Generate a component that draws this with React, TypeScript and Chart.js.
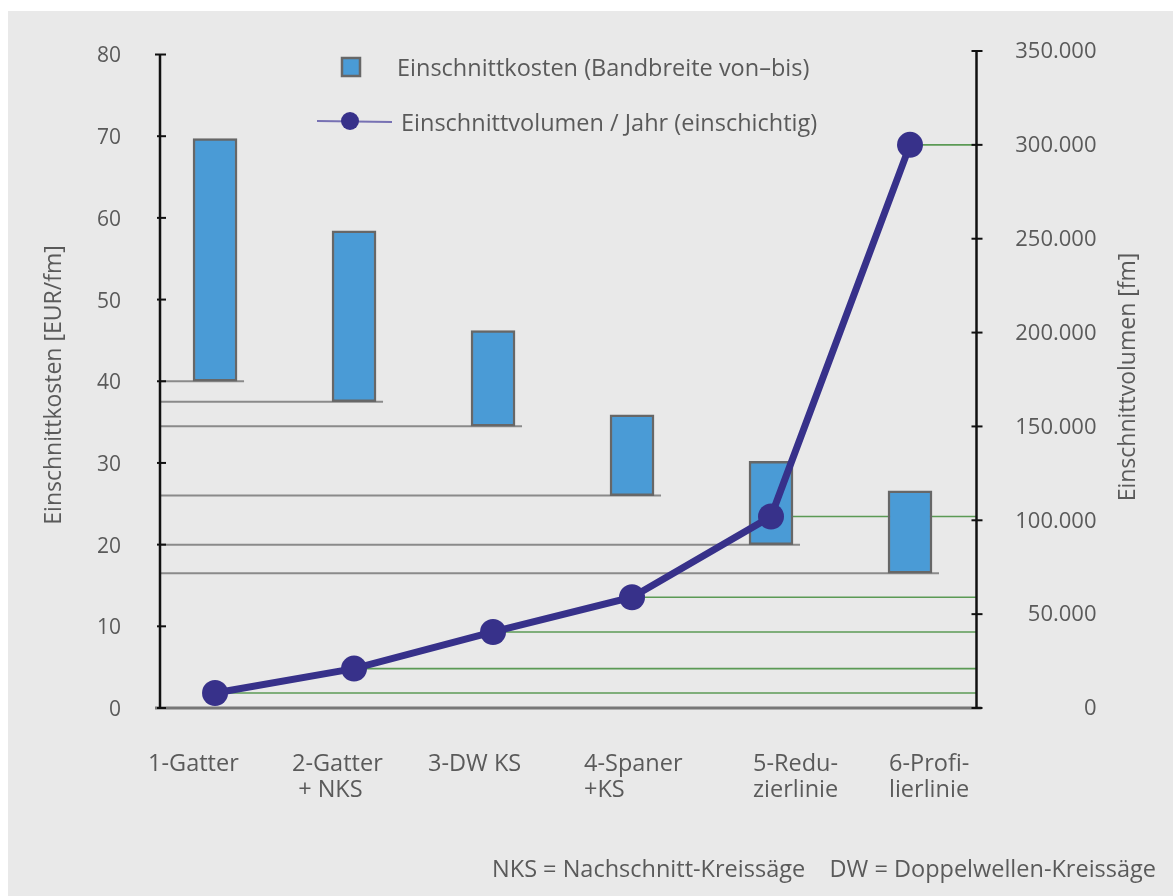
import React, { useEffect, useRef } from "react";
import { Chart, registerables } from "chart.js";

Chart.register(...registerables);

// Saw-line types (multi-line axis captions)
const categories: string[][] = [
  ["1-Gatter"],
  ["2-Gatter", " + NKS"],
  ["3-DW KS"],
  ["4-Spaner", "+KS"],
  ["5-Redu-", "zierlinie"],
  ["6-Profi-", "lierlinie"],
];

// Cutting cost range per line type [EUR/fm]
const costLow = [40, 37.5, 34.5, 26, 20, 16.5];
const costHigh = [69.7, 58.4, 46.2, 35.9, 30.2, 26.6];

// Annual cutting volume, single shift [fm]
const volume = [8000, 21000, 40500, 59000, 102000, 300000];

const costTicks = [0, 10, 20, 30, 40, 50, 60, 70, 80];
const volumeTicks = [0, 50000, 100000, 150000, 200000, 250000, 300000, 350000];

const legendCost = "Einschnittkosten (Bandbreite von\u2013bis)";
const legendVolume = "Einschnittvolumen / Jahr (einschichtig)";
const titleCost = "Einschnittkosten [EUR/fm]";
const titleVolume = "Einschnittvolumen [fm]";
const footnote = "NKS = Nachschnitt-Kreiss\u00e4ge    DW = Doppelwellen-Kreiss\u00e4ge";

// Layout / styling
const FONT = '"Open Sans", sans-serif';
const TEXT = "#5a5a5a";
const BAR_FILL = "#4a9bd6";
const BAR_EDGE = "#676767";
const LINE = "#37318a";
const GREEN = "#5b9a55";
const GREY_LINE = "#8a8a8a";
const BAR_W = 44;
// horizontal nudges of the category captions relative to their column
const CAPTION_SHIFT = [-67, -62, -65, -48, -18, -21];

const fmtThousands = (v: number) =>
  String(v).replace(/\B(?=(\d{3})+(?!\d))/g, ".");

const decor = {
  id: "decor",
  beforeDatasetsDraw(chart: any) {
    const { ctx, scales, chartArea } = chart;
    const x = scales.x;
    const y = scales.y;
    const y2 = scales.y2;
    const leftX = chartArea.left;
    const rightX = chartArea.right - 0.5;
    ctx.save();

    // grey lines from the cost axis to the lower end of each cost range
    ctx.strokeStyle = GREY_LINE;
    ctx.lineWidth = 2;
    costLow.forEach((lo, i) => {
      const py = y.getPixelForValue(lo);
      ctx.beginPath();
      ctx.moveTo(leftX, py);
      ctx.lineTo(x.getPixelForValue(i + 1) + BAR_W / 2 + 7, py);
      ctx.stroke();
    });

    // green lines from each volume point to the volume axis
    ctx.strokeStyle = GREEN;
    ctx.lineWidth = 1.6;
    volume.forEach((v, i) => {
      const py = y2.getPixelForValue(v);
      ctx.beginPath();
      ctx.moveTo(x.getPixelForValue(i + 1), py);
      ctx.lineTo(rightX, py);
      ctx.stroke();
    });

    // bottom axis
    const bottom = y.getPixelForValue(0);
    ctx.strokeStyle = "#777";
    ctx.lineWidth = 3;
    ctx.beginPath();
    ctx.moveTo(leftX - 5, bottom);
    ctx.lineTo(rightX + 5, bottom);
    ctx.stroke();

    // left axis with crossing ticks
    ctx.strokeStyle = "#111";
    ctx.lineWidth = 2.5;
    const topL = y.getPixelForValue(costTicks[costTicks.length - 1]);
    ctx.beginPath();
    ctx.moveTo(leftX, topL);
    ctx.lineTo(leftX, bottom);
    ctx.stroke();
    ctx.lineWidth = 2;
    costTicks.forEach((t, i) => {
      const py = y.getPixelForValue(t);
      const w = i === costTicks.length - 1 ? 5 : 3;
      ctx.beginPath();
      ctx.moveTo(leftX - w, py);
      ctx.lineTo(leftX + 6, py);
      ctx.stroke();
    });

    // right axis with crossing ticks
    ctx.lineWidth = 2.5;
    const topR = y2.getPixelForValue(volumeTicks[volumeTicks.length - 1]);
    ctx.beginPath();
    ctx.moveTo(rightX, topR);
    ctx.lineTo(rightX, bottom);
    ctx.stroke();
    ctx.lineWidth = 2;
    volumeTicks.forEach((t) => {
      const py = y2.getPixelForValue(t);
      ctx.beginPath();
      ctx.moveTo(rightX - 5, py);
      ctx.lineTo(rightX + 6, py);
      ctx.stroke();
    });

    // tick labels
    ctx.fillStyle = TEXT;
    ctx.textAlign = "right";
    ctx.textBaseline = "middle";
    ctx.font = `21px ${FONT}`;
    costTicks.forEach((t) => {
      ctx.fillText(String(t), leftX - 39, y.getPixelForValue(t) + 2);
    });
    ctx.font = `22px ${FONT}`;
    volumeTicks.forEach((t) => {
      ctx.fillText(fmtThousands(t), rightX + 120, y2.getPixelForValue(t) + 1);
    });
    ctx.restore();
  },
  afterDraw(chart: any) {
    const { ctx, scales, chartArea } = chart;
    const x = scales.x;
    ctx.save();

    // legend
    ctx.fillStyle = BAR_FILL;
    ctx.fillRect(334, 47, 18, 18);
    ctx.strokeStyle = BAR_EDGE;
    ctx.lineWidth = 2.5;
    ctx.strokeRect(334, 47, 18, 18);
    ctx.strokeStyle = "rgba(80,72,160,0.75)";
    ctx.lineWidth = 2;
    ctx.beginPath();
    ctx.moveTo(309, 110);
    ctx.lineTo(384, 111);
    ctx.stroke();
    ctx.fillStyle = LINE;
    ctx.beginPath();
    ctx.arc(342, 110, 9, 0, Math.PI * 2);
    ctx.fill();

    ctx.fillStyle = TEXT;
    ctx.font = `23.5px ${FONT}`;
    ctx.textAlign = "left";
    ctx.textBaseline = "middle";
    ctx.fillText(legendCost, 389, 58);
    ctx.fillText(legendVolume, 393, 113);

    // category captions
    ctx.font = `23.5px ${FONT}`;
    categories.forEach((lines, i) => {
      const px = x.getPixelForValue(i + 1) + CAPTION_SHIFT[i];
      lines.forEach((ln, j) => {
        ctx.fillText(ln, px, chartArea.bottom + 56 + j * 26);
      });
    });

    // axis titles
    ctx.font = `23px ${FONT}`;
    ctx.textAlign = "center";
    ctx.save();
    ctx.translate(46, 374);
    ctx.rotate(-Math.PI / 2);
    ctx.fillText(titleCost, 0, 0);
    ctx.restore();
    ctx.save();
    ctx.translate(1120, 366);
    ctx.rotate(-Math.PI / 2);
    ctx.fillText(titleVolume, 0, 0);
    ctx.restore();

    // footnote
    ctx.font = `23.5px ${FONT}`;
    ctx.textAlign = "right";
    ctx.fillText(footnote, 1148, 859);
    ctx.restore();
  },
};

export default function App() {
  const canvasRef = useRef<HTMLCanvasElement | null>(null);

  useEffect(() => {
    if (!canvasRef.current) return;
    const chart = new Chart(canvasRef.current, {
      type: "bar",
      data: {
        datasets: [
          {
            type: "line",
            label: legendVolume,
            yAxisID: "y2",
            data: volume.map((v, i) => ({ x: i + 1, y: v })),
            borderColor: LINE,
            backgroundColor: LINE,
            borderWidth: 7,
            pointRadius: 13,
            pointHoverRadius: 13,
            pointBorderWidth: 0,
            pointBackgroundColor: LINE,
            tension: 0,
            order: 0,
          } as any,
          {
            type: "bar",
            label: legendCost,
            yAxisID: "y",
            data: costLow.map((lo, i) => ({ x: i + 1, y: [lo, costHigh[i]] })),
            backgroundColor: BAR_FILL,
            borderColor: BAR_EDGE,
            borderWidth: 2.5,
            borderSkipped: false,
            barThickness: BAR_W,
            order: 1,
          } as any,
        ],
      },
      options: {
        animation: false,
        responsive: true,
        maintainAspectRatio: false,
        layout: { padding: { left: 152, right: 196, top: 40, bottom: 188 } },
        plugins: {
          legend: { display: false },
          tooltip: { enabled: false },
        },
        scales: {
          x: {
            type: "linear",
            min: 0.604,
            max: 6.482,
            offset: false,
            display: false,
          },
          y: {
            type: "linear",
            position: "left",
            min: 0,
            max: 80.43,
            display: false,
          },
          y2: {
            type: "linear",
            position: "right",
            min: 0,
            max: 350000,
            display: false,
          },
        },
      },
      plugins: [decor],
    });
    return () => chart.destroy();
  }, []);

  return (
    <div
      style={{
        position: "fixed",
        left: 8,
        top: 11,
        right: 0,
        bottom: 0,
        background: "#e9e9e9",
      }}
    >
      <canvas ref={canvasRef} />
    </div>
  );
}
